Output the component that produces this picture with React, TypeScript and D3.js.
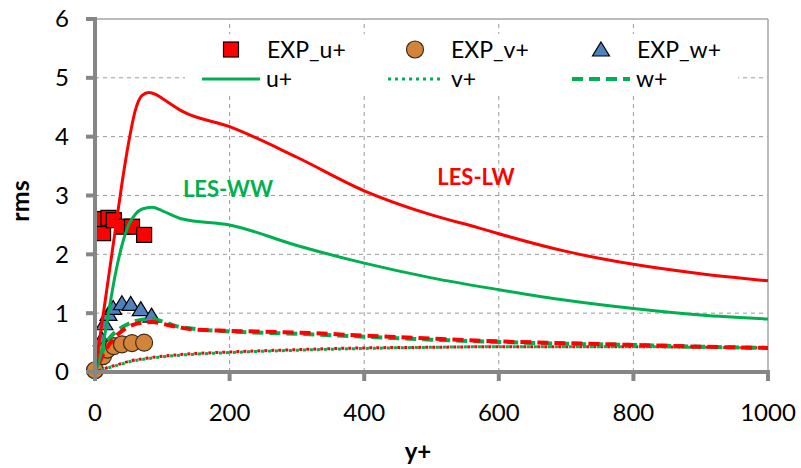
import React from "react";
import * as d3 from "d3";

const xTicks = [0, 200, 400, 600, 800, 1000];
const yTicks = [0, 1, 2, 3, 4, 5, 6];

// Experimental points
const expUX = [12, 12, 20, 28, 42, 55, 73];
const expUY = [2.36, 2.6, 2.62, 2.58, 2.47, 2.47, 2.33];
const expVX = [0, 12, 18, 28, 40, 55, 73];
const expVY = [0.03, 0.27, 0.38, 0.44, 0.47, 0.49, 0.5];
const expWX = [10, 14, 20, 27, 40, 53, 68, 84];
const expWY = [0.55, 0.82, 0.98, 1.08, 1.16, 1.15, 1.06, 0.95];

// LES-LW (red)
const lwUX = [0, 10, 20, 30, 40, 50, 60, 70, 80, 90, 100, 130, 200, 300, 400, 500, 570, 600, 700, 800, 900, 1000];
const lwUY = [0, 0.8, 1.6, 2.4, 3.2, 3.9, 4.45, 4.7, 4.75, 4.72, 4.65, 4.43, 4.17, 3.65, 3.08, 2.67, 2.45, 2.35, 2.05, 1.83, 1.67, 1.55];
const lwVX = [0, 10, 20, 35, 50, 80, 120, 200, 300, 400, 500, 600, 700, 800, 900, 1000];
const lwVY = [0, 0.04, 0.08, 0.13, 0.18, 0.24, 0.29, 0.34, 0.38, 0.41, 0.42, 0.43, 0.43, 0.43, 0.42, 0.41];
const lwWX = [0, 5, 10, 20, 35, 50, 70, 85, 100, 120, 150, 200, 300, 400, 500, 600, 700, 800, 900, 1000];
const lwWY = [0, 0.12, 0.25, 0.45, 0.65, 0.77, 0.84, 0.85, 0.82, 0.77, 0.72, 0.7, 0.67, 0.62, 0.57, 0.52, 0.49, 0.46, 0.43, 0.41];

// LES-WW (green)
const wwUX = [0, 10, 20, 30, 40, 50, 60, 70, 85, 100, 130, 200, 300, 400, 500, 600, 700, 800, 900, 1000];
const wwUY = [0, 0.35, 1.0, 1.65, 2.15, 2.5, 2.68, 2.77, 2.8, 2.74, 2.6, 2.5, 2.15, 1.85, 1.6, 1.4, 1.22, 1.08, 0.97, 0.9];
const wwVX = [0, 10, 20, 35, 50, 80, 120, 200, 300, 400, 500, 600, 700, 800, 900, 1000];
const wwVY = [0, 0.03, 0.07, 0.12, 0.17, 0.23, 0.28, 0.33, 0.37, 0.4, 0.42, 0.43, 0.43, 0.43, 0.42, 0.41];
const wwWX = [0, 5, 10, 20, 35, 50, 70, 85, 100, 120, 150, 200, 300, 400, 500, 600, 700, 800, 900, 1000];
const wwWY = [0, 0.2, 0.33, 0.55, 0.72, 0.82, 0.89, 0.9, 0.86, 0.78, 0.73, 0.69, 0.65, 0.6, 0.55, 0.51, 0.48, 0.46, 0.43, 0.41];

const RED = "#FF0000";
const GREEN = "#00B050";
const FONT = "Lato, 'Open Sans', sans-serif";

const x = d3.scaleLinear().domain([0, 1000]).range([95, 768]);
const y = d3.scaleLinear().domain([0, 6]).range([372, 19]);

const zip = (xs: number[], ys: number[]) => xs.map((v, i) => [v, ys[i]] as [number, number]);
const lineGen = d3
  .line<[number, number]>()
  .x((d) => x(d[0]))
  .y((d) => y(d[1]))
  .curve(d3.curveMonotoneX);

export default function App() {
  const dashedStyle = { strokeWidth: 4, strokeDasharray: "11,6" };
  const dottedStyle = { strokeWidth: 3, strokeDasharray: "3,4" };
  const tri = (cx: number, cy: number) =>
    `M${cx},${cy - 8}L${cx + 8.5},${cy + 6}L${cx - 8.5},${cy + 6}Z`;
  return (
    <svg width={801} height={468} style={{ position: "absolute", left: 0, top: 0, background: "#fff" }}>
      {/* grid */}
      {yTicks.slice(1, 6).map((t) => (
        <line key={"gy" + t} x1={x(0)} x2={x(1000)} y1={y(t)} y2={y(t)} stroke="#9a9a9a" strokeWidth={1} strokeDasharray="4,4" />
      ))}
      {xTicks.slice(1, 5).map((t) => (
        <line key={"gx" + t} x1={x(t)} x2={x(t)} y1={y(0)} y2={y(6)} stroke="#9a9a9a" strokeWidth={1} strokeDasharray="4,4" />
      ))}
      {/* frame */}
      <line x1={x(0)} x2={x(1000)} y1={y(6)} y2={y(6)} stroke="#a6a6a6" strokeWidth={1.5} />
      <line x1={x(1000)} x2={x(1000)} y1={y(6)} y2={y(0)} stroke="#a6a6a6" strokeWidth={1.5} />

      {/* legend background */}
      <rect x={185} y={34} width={553} height={61} fill="#fff" />

      {/* experimental markers */}
      {zip(expUX, expUY).map((d, i) => (
        <rect key={"su" + i} x={x(d[0]) - 7.5} y={y(d[1]) - 7.5} width={15} height={15} fill={RED} stroke="#000" strokeWidth={1.2} />
      ))}
      {zip(expWX, expWY).map((d, i) => (
        <path key={"tw" + i} d={tri(x(d[0]), y(d[1]))} fill="#4F81BD" stroke="#000" strokeWidth={1.2} />
      ))}
      {zip(expVX, expVY).map((d, i) => (
        <circle key={"cv" + i} cx={x(d[0])} cy={y(d[1])} r={8.5} fill="#D2843B" stroke="#3a2a1a" strokeWidth={1.2} />
      ))}

      {/* LES lines */}
      <path d={lineGen(zip(wwVX, wwVY)) || ""} fill="none" stroke={GREEN} {...dottedStyle} />
      <path d={lineGen(zip(lwVX, lwVY)) || ""} fill="none" stroke={RED} {...dottedStyle} strokeDashoffset={3.5} />
      <path d={lineGen(zip(wwWX, wwWY)) || ""} fill="none" stroke={GREEN} {...dashedStyle} />
      <path d={lineGen(zip(lwWX, lwWY)) || ""} fill="none" stroke={RED} {...dashedStyle} strokeDashoffset={8} />
      <path d={lineGen(zip(wwUX, wwUY)) || ""} fill="none" stroke={GREEN} strokeWidth={3} />
      <path d={lineGen(zip(lwUX, lwUY)) || ""} fill="none" stroke={RED} strokeWidth={3} />

      {/* axes */}
      <line x1={x(0)} x2={x(0)} y1={y(6) - 2} y2={y(0) + 2} stroke="#868686" strokeWidth={4} />
      <line x1={x(0) - 2} x2={x(1000) + 2} y1={y(0)} y2={y(0)} stroke="#868686" strokeWidth={4} />
      {yTicks.map((t) => (
        <g key={"yt" + t}>
          <line x1={x(0) - 9} x2={x(0)} y1={y(t)} y2={y(t)} stroke="#868686" strokeWidth={4} />
          <text x={69} y={y(t)} dy="0.35em" textAnchor="end" fontFamily={FONT} fontSize={24} fill="#000">
            {t}
          </text>
        </g>
      ))}
      {xTicks.map((t) => (
        <g key={"xt" + t}>
          <line x1={x(t)} x2={x(t)} y1={y(0)} y2={y(0) + 9} stroke="#868686" strokeWidth={4} />
          <text x={x(t)} y={413} dy="0.35em" textAnchor="middle" fontFamily={FONT} fontSize={24} fill="#000">
            {t}
          </text>
        </g>
      ))}

      {/* axis titles */}
      <text x={418} y={452} dy="0.35em" textAnchor="middle" fontFamily={FONT} fontSize={24} fontWeight="bold">
        y+
      </text>
      <text transform="translate(20,201) rotate(-90)" dy="0.35em" textAnchor="middle" fontFamily={FONT} fontSize={25} fontWeight="bold">
        rms
      </text>

      {/* annotations */}
      <text x={228} y={189} dy="0.35em" textAnchor="middle" fontFamily={FONT} fontSize={22} fontWeight="bold" fill={GREEN}>
        LES-WW
      </text>
      <text x={476} y={177} dy="0.35em" textAnchor="middle" fontFamily={FONT} fontSize={22} fontWeight="bold" fill={RED}>
        LES-LW
      </text>

      {/* legend */}
      <g fontFamily={FONT} fontSize={23} fill="#000">
        <rect x={231 - 7.5} y={49.5 - 7.5} width={15} height={15} fill={RED} stroke="#000" strokeWidth={1.2} />
        <text x={267} y={50} dy="0.35em">EXP_u+</text>
        <circle cx={415} cy={49.5} r={8.5} fill="#D2843B" stroke="#3a2a1a" strokeWidth={1.2} />
        <text x={451} y={50} dy="0.35em">EXP_v+</text>
        <path d={tri(601, 50)} fill="#4F81BD" stroke="#000" strokeWidth={1.2} />
        <text x={637} y={50} dy="0.35em">EXP_w+</text>

        <line x1={202} x2={260} y1={79} y2={79} stroke={GREEN} strokeWidth={3} />
        <text x={266} y={79} dy="0.35em">u+</text>
        <line x1={388} x2={442} y1={79} y2={79} stroke={GREEN} {...dottedStyle} />
        <text x={451} y={79} dy="0.35em">v+</text>
        <line x1={572} x2={630} y1={79} y2={79} stroke={GREEN} {...dashedStyle} />
        <text x={636} y={79} dy="0.35em">w+</text>
      </g>
    </svg>
  );
}
